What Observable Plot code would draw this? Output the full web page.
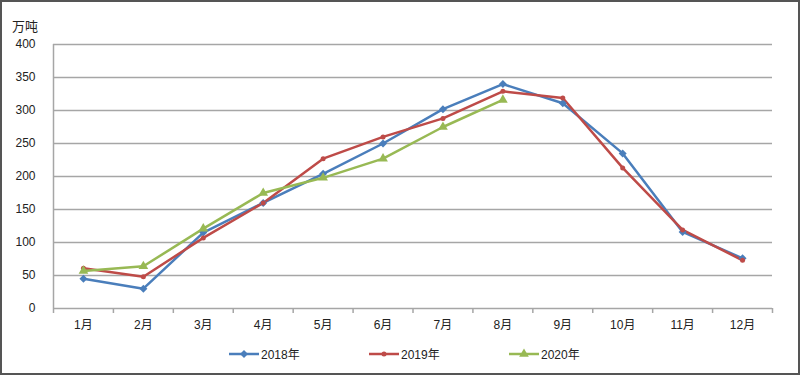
<!DOCTYPE html>
<html>
<head>
<meta charset="utf-8">
<script src="https://cdn.jsdelivr.net/npm/d3@7"></script>
<script src="https://cdn.jsdelivr.net/npm/@observablehq/plot@0.6"></script>
<style>
  html, body { margin: 0; padding: 0; background: #fff; }
  #wrap { position: relative; width: 800px; height: 375px; overflow: hidden; font-family: "Liberation Sans", "Noto Sans CJK SC", sans-serif; color: #222; }
  #border { position: absolute; left: 0; top: 0; width: 800px; height: 375px; box-sizing: border-box; border: 2px solid #555; pointer-events: none; }
  #ylabel { position: absolute; left: 12px; top: 16px; font-size: 13px; font-family: "Noto Sans CJK SC", sans-serif; }
  #legend { position: absolute; left: 229px; top: 345px; display: flex; font-size: 12px; }
  #legend .item { width: 140px; display: flex; align-items: center; }
  #legend svg { display: block; margin-right: 2px; }
</style>
</head>
<body>
<div id="wrap">
  <div id="chart"></div>
  <div id="ylabel">万吨</div>
  <div id="legend"></div>
  <div id="border"></div>
</div>
<script>
const months = ["1月","2月","3月","4月","5月","6月","7月","8月","9月","10月","11月","12月"];
const seriesNames = ["2018年","2019年","2020年"];
const colors = ["#4a7ebb","#be4b48","#98b954"];
const symbols = ["diamond2","circle","triangle"];
const symbolR = [3.6, 2.5, 3.6];
const v2018 = [45,30,115,160,204,250,302,340,311,235,116,76];
const v2019 = [61,48,107,160,227,260,288,329,319,213,119,73];
const v2020 = [57,64,121,175,198,227,275,316];
const yTicks = [0,50,100,150,200,250,300,350,400];

const allValues = [v2018, v2019, v2020];
const rows = allValues.flatMap((vals, s) => vals.map((v, i) => ({series: seriesNames[s], m: i + 1, v})));
const monthIdx = months.map((_, i) => i + 1);
const boundaries = d3.range(0, months.length + 1).map(i => i + 0.5);
const xDomain = [0.5, months.length + 0.5];
const grid = "#a6a6a6";

const chart = Plot.plot({
  width: 800,
  height: 340,
  marginTop: 44,
  marginLeft: 53,
  marginRight: 28,
  marginBottom: 32,
  style: {fontFamily: '"Liberation Sans", "Noto Sans CJK SC", sans-serif', fontSize: "12px", color: "#222"},
  x: {domain: xDomain, axis: null},
  y: {domain: [0, 400], axis: null},
  marks: [
    Plot.ruleY(yTicks, {stroke: grid, strokeWidth: 1.5}),
    Plot.ruleX([xDomain[0]], {stroke: grid, strokeWidth: 1.5}),
    Plot.axisX(boundaries, {tickSize: 5, tickFormat: () => "", stroke: grid, strokeWidth: 1.5, label: null}),
    Plot.axisX(monthIdx, {tickSize: 0, tickPadding: 12, tickFormat: i => months[i - 1], fontSize: 12, fill: "#222", label: null}),
    Plot.axisY(yTicks, {tickSize: 0, tickPadding: 18, fontSize: 12, fill: "#222", label: null}),
    ...seriesNames.map((name, s) => Plot.line(rows.filter(d => d.series === name), {x: "m", y: "v", stroke: colors[s], strokeWidth: 2.5})),
    ...seriesNames.map((name, s) => Plot.dot(rows.filter(d => d.series === name), {x: "m", y: "v", fill: colors[s], stroke: "none", symbol: symbols[s], r: symbolR[s]}))
  ]
});
document.getElementById("chart").appendChild(chart);

const legend = document.getElementById("legend");
const symTypes = [d3.symbolDiamond2, d3.symbolCircle, d3.symbolTriangle];
seriesNames.forEach((name, s) => {
  const item = document.createElement("div");
  item.className = "item";
  const svg = d3.create("svg").attr("width", 30).attr("height", 12);
  svg.append("line").attr("x1", 0).attr("x2", 30).attr("y1", 6).attr("y2", 6).attr("stroke", colors[s]).attr("stroke-width", 2.5);
  svg.append("path").attr("transform", "translate(15,6)").attr("d", d3.symbol(symTypes[s], Math.PI * symbolR[s] * symbolR[s])()).attr("fill", colors[s]);
  item.appendChild(svg.node());
  const t = document.createElement("span");
  t.textContent = name;
  item.appendChild(t);
  legend.appendChild(item);
});
</script>
</body>
</html>
